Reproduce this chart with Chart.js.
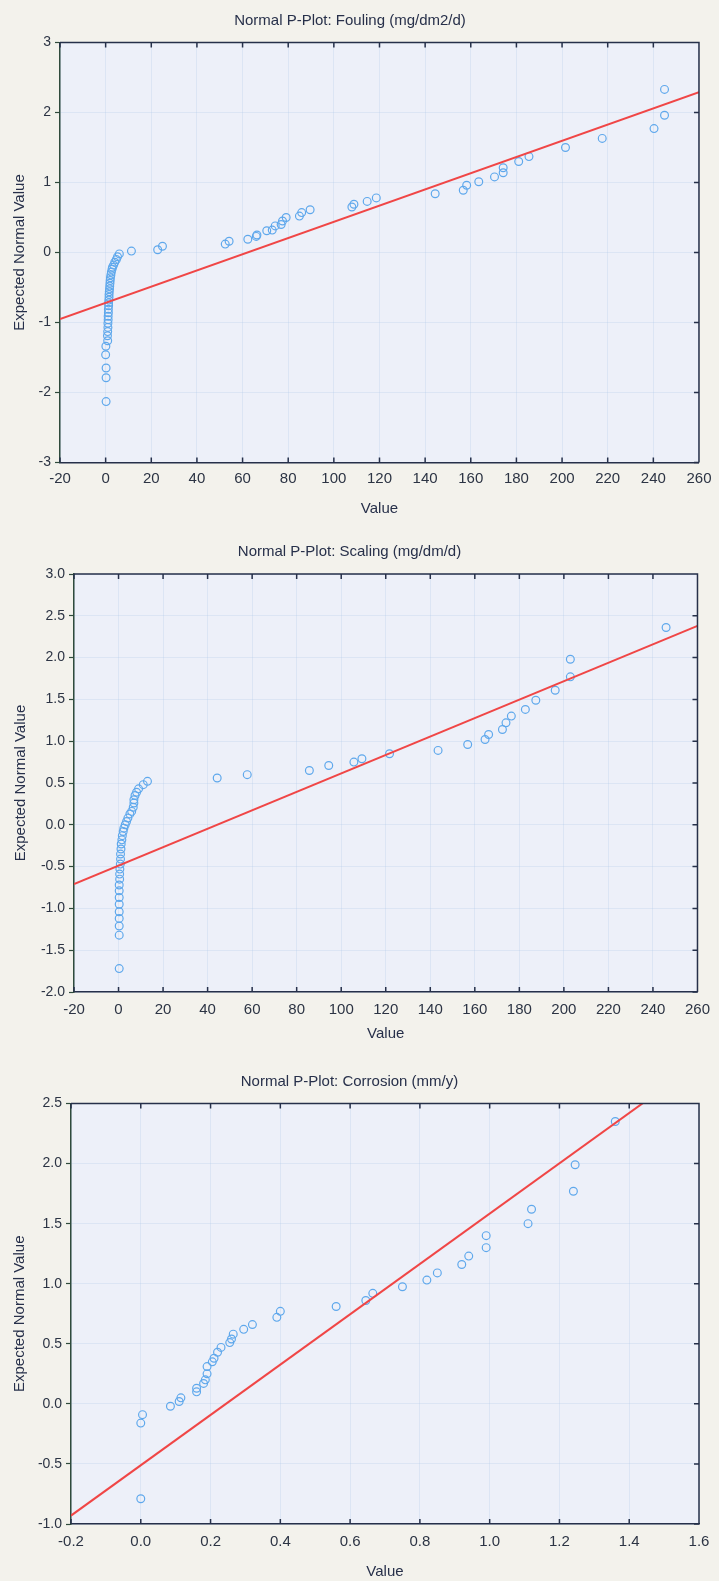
<!DOCTYPE html>
<html>
<head>
<meta charset="utf-8">
<title>Normal P-Plots</title>
<script src="https://cdn.jsdelivr.net/npm/chart.js@4.4.1/dist/chart.umd.min.js"></script>
<style>
  html, body { margin: 0; padding: 0; background: #f3f2ec; }
  body { width: 719px; height: 1581px; position: relative; overflow: hidden; }
  .plot { position: absolute; left: 0; width: 719px; }
  .plot canvas { display: block; }
</style>
</head>
<body>
<div class="plot" style="top:0;height:527px"><canvas id="cFouling"></canvas></div>
<div class="plot" style="top:527px;height:530px"><canvas id="cScaling"></canvas></div>
<div class="plot" style="top:1057px;height:524px"><canvas id="cCorrosion"></canvas></div>
<script>
/* ---------- data (value, expected normal value) ---------- */
var FOUL_X = [6.0, 5.2, 4.7, 4.0, 3.5, 3.0, 2.8, 2.5, 2.3, 2.1, 2.0, 1.9, 1.8, 1.7, 1.6, 1.5, 1.5,
  1.4, 1.3, 1.3, 1.2, 1.2, 1.1, 1.1, 1.0, 1.0, 0.9, 0.8, 0.9, 0.1, 0.0, 0.2, 0.2, 0.2,
  11.3, 22.8, 24.9, 52.4, 54.1, 62.3, 66.0, 66.3, 70.6, 73.0, 74.3, 76.9, 77.5, 79.1, 84.9,
  85.9, 89.6, 107.9, 108.8, 114.6, 118.6, 144.4, 156.7, 158.2, 163.5, 170.4, 174.2, 174.2,
  181.0, 185.5, 201.5, 217.6, 240.3, 244.9, 244.9];
var FOUL_Z = [-0.02, -0.06, -0.10, -0.14, -0.18, -0.21, -0.24, -0.28, -0.32, -0.36, -0.40, -0.44,
  -0.48, -0.52, -0.56, -0.60, -0.64, -0.68, -0.72, -0.76, -0.81, -0.86, -0.91, -0.96, -1.01,
  -1.07, -1.13, -1.19, -1.26, -1.34, -1.46, -1.65, -1.79, -2.13,
  0.02, 0.04, 0.09, 0.12, 0.16, 0.19, 0.23, 0.25, 0.31, 0.32, 0.38, 0.40, 0.45, 0.50, 0.52,
  0.57, 0.61, 0.65, 0.69, 0.73, 0.78, 0.84, 0.89, 0.96, 1.01, 1.08, 1.14, 1.21, 1.30, 1.37,
  1.50, 1.63, 1.77, 1.96, 2.33];
var FOUL_FIT_X = [-20, 260];
var FOUL_FIT_Z = [-0.95, 2.29];

var SCAL_X = [13.0, 11.1, 9.0, 8.1, 7.4, 6.9, 6.9, 6.6, 5.9, 5.1, 4.2, 3.6, 3.0, 2.4, 2.1, 1.7,
  1.5, 1.2, 1.1, 0.9, 0.9, 0.8, 0.6, 0.5, 0.5, 0.3, 0.3, 0.3, 0.3, 0.3, 0.3, 0.3, 0.3, 0.3,
  44.3, 57.8, 85.7, 94.4, 105.7, 109.3, 121.7, 143.5, 156.8, 164.6, 166.2, 172.4, 174.0,
  176.4, 182.7, 187.4, 196.1, 202.9, 202.9, 245.9];
var SCAL_Z = [0.52, 0.48, 0.43, 0.39, 0.35, 0.30, 0.26, 0.21, 0.16, 0.13, 0.08, 0.04, 0.00,
  -0.04, -0.08, -0.13, -0.18, -0.23, -0.29, -0.35, -0.41, -0.47, -0.53, -0.59, -0.65, -0.72,
  -0.79, -0.87, -0.95, -1.04, -1.12, -1.21, -1.32, -1.72,
  0.56, 0.60, 0.65, 0.71, 0.75, 0.79, 0.85, 0.89, 0.96, 1.02, 1.08, 1.14, 1.22, 1.30, 1.38,
  1.49, 1.61, 1.77, 1.98, 2.36];
var SCAL_FIT_X = [-20, 260];
var SCAL_FIT_Z = [-0.71, 2.38];

var CORR_X = [0.0, 0.0, 0.005, 0.085, 0.11, 0.115, 0.16, 0.16, 0.18, 0.185, 0.19, 0.19, 0.205,
  0.21, 0.22, 0.23, 0.255, 0.26, 0.265, 0.295, 0.32, 0.39, 0.40, 0.56, 0.645, 0.665, 0.75,
  0.82, 0.85, 0.92, 0.94, 0.99, 0.99, 1.11, 1.12, 1.24, 1.245, 1.36];
var CORR_Z = [-0.79, -0.16, -0.09, -0.02, 0.02, 0.05, 0.10, 0.13, 0.17, 0.20, 0.25, 0.31, 0.35,
  0.38, 0.43, 0.47, 0.51, 0.54, 0.58, 0.62, 0.66, 0.72, 0.77, 0.81, 0.86, 0.92, 0.975, 1.03,
  1.09, 1.16, 1.23, 1.30, 1.40, 1.50, 1.62, 1.77, 1.99, 2.35];
var CORR_FIT_X = [-0.2, 1.6];
var CORR_FIT_Z = [-0.93, 2.84];

/* axis ranges: [min, max, step] */
var FOUL_XAXIS = [-20, 260, 20], FOUL_YAXIS = [-3, 3, 1];
var SCAL_XAXIS = [-20, 260, 20], SCAL_YAXIS = [-2, 3, 0.5];
var CORR_XAXIS = [-0.2, 1.6, 0.2], CORR_YAXIS = [-1, 2.5, 0.5];

(function () {
  var RED = "#f04646", BLUE = "#5fa8ec", NAVY = "#26304a", GREEN = "#2f4b3c",
      INK = "#27304a", TICK = "#2c3444", GRID = "rgba(175,202,235,0.28)", PLOT_BG = "#edf0f9";

  Chart.defaults.font.family = "'Liberation Sans', Arial, sans-serif";
  Chart.defaults.color = TICK;

  function pts(xs, zs) { return xs.map(function (x, i) { return { x: x, y: zs[i] }; }); }
  function fixed1(v) { return Number(v).toFixed(1); }
  function plain(v) { return String(Math.round(v)); }

  // plot background + top/right frame and inward ticks
  var frame = {
    id: "frame",
    beforeDraw: function (chart) {
      var a = chart.chartArea, ctx = chart.ctx;
      ctx.save();
      ctx.fillStyle = PLOT_BG;
      ctx.fillRect(a.left, a.top, a.right - a.left, a.bottom - a.top);
      ctx.restore();
    },
    afterDraw: function (chart) {
      var a = chart.chartArea, ctx = chart.ctx, sx = chart.scales.x, sy = chart.scales.y;
      ctx.save();
      ctx.strokeStyle = NAVY; ctx.lineWidth = 1.5;
      ctx.beginPath();
      ctx.moveTo(a.left, a.top); ctx.lineTo(a.right, a.top); ctx.lineTo(a.right, a.bottom);
      sx.ticks.forEach(function (t) {
        var p = sx.getPixelForValue(t.value);
        ctx.moveTo(p, a.top); ctx.lineTo(p, a.top + 5);
        ctx.moveTo(p, a.bottom); ctx.lineTo(p, a.bottom - 5);
      });
      sy.ticks.forEach(function (t) {
        var p = sy.getPixelForValue(t.value);
        ctx.moveTo(a.right, p); ctx.lineTo(a.right - 5, p);
      });
      ctx.stroke();
      ctx.restore();
    }
  };

  function pplot(id, c) {
    new Chart(document.getElementById(id), {
      type: "scatter",
      data: { datasets: [
        { type: "line", data: pts(c.fitX, c.fitZ), borderColor: RED, borderWidth: 2,
          pointRadius: 0, tension: 0, order: 0 },
        { data: pts(c.x, c.z), pointStyle: "circle", pointRadius: 3.9, borderWidth: 1.2,
          borderColor: BLUE, backgroundColor: "rgba(0,0,0,0)", order: 1 }
      ] },
      options: {
        responsive: true, maintainAspectRatio: false, animation: false,
        layout: { padding: { left: 0, right: c.padRight, top: 0, bottom: 0 } },
        plugins: {
          legend: { display: false }, tooltip: { enabled: false },
          title: { display: true, text: c.title, color: INK, font: { size: 15, weight: "normal" },
            padding: { top: c.titleTop, bottom: c.titleBottom } }
        },
        scales: {
          x: { type: "linear", min: c.xAxis[0], max: c.xAxis[1],
            ticks: { stepSize: c.xAxis[2], maxTicksLimit: 30, padding: c.xPad, color: TICK,
              font: { size: 15 }, callback: c.xFmt },
            grid: { color: GRID, drawTicks: false },
            border: { color: NAVY, width: 1.5 },
            title: { display: true, text: "Value", color: INK, font: { size: 15 },
              padding: { top: 0, bottom: c.valueBottom } },
            afterFit: function (s) { s.height = c.xHeight; } },
          y: { type: "linear", min: c.yAxis[0], max: c.yAxis[1],
            ticks: { stepSize: c.yAxis[2], maxTicksLimit: 30, padding: 4, color: TICK,
              font: { size: 14 }, callback: c.yFmt },
            grid: { color: GRID, drawTicks: true, tickLength: 5, tickColor: GREEN, tickWidth: 1.2 },
            border: { color: GREEN, width: 1.5 },
            title: { display: true, text: "Expected Normal Value", color: INK, font: { size: 15 },
              padding: { top: c.yTitleLeft, bottom: 0 } },
            afterFit: function (s) { s.width = c.yWidth; } }
        }
      },
      plugins: [frame]
    });
  }

  /* 1 — fouling */
  pplot("cFouling", {
    title: "Normal P-Plot: Fouling (mg/dm2/d)", x: FOUL_X, z: FOUL_Z,
    fitX: FOUL_FIT_X, fitZ: FOUL_FIT_Z, xAxis: FOUL_XAXIS, yAxis: FOUL_YAXIS,
    xFmt: plain, yFmt: plain, padRight: 19, titleTop: 12, titleBottom: 12.5,
    xHeight: 64.5, xPad: 7.5, valueBottom: 9, yWidth: 60, yTitleLeft: 11
  });

  /* 2 — scaling */
  pplot("cScaling", {
    title: "Normal P-Plot: Scaling (mg/dm/d)", x: SCAL_X, z: SCAL_Z,
    fitX: SCAL_FIT_X, fitZ: SCAL_FIT_Z, xAxis: SCAL_XAXIS, yAxis: SCAL_YAXIS,
    xFmt: plain, yFmt: fixed1, padRight: 20, titleTop: 16, titleBottom: 13,
    xHeight: 65, xPad: 9, valueBottom: 14, yWidth: 74, yTitleLeft: 12
  });

  /* 3 — corrosion */
  pplot("cCorrosion", {
    title: "Normal P-Plot: Corrosion (mm/y)", x: CORR_X, z: CORR_Z,
    fitX: CORR_FIT_X, fitZ: CORR_FIT_Z, xAxis: CORR_XAXIS, yAxis: CORR_YAXIS,
    xFmt: fixed1, yFmt: fixed1, padRight: 20, titleTop: 16, titleBottom: 12.5,
    xHeight: 57, xPad: 9, valueBottom: 0, yWidth: 71, yTitleLeft: 11
  });
})();
</script>
</body>
</html>
